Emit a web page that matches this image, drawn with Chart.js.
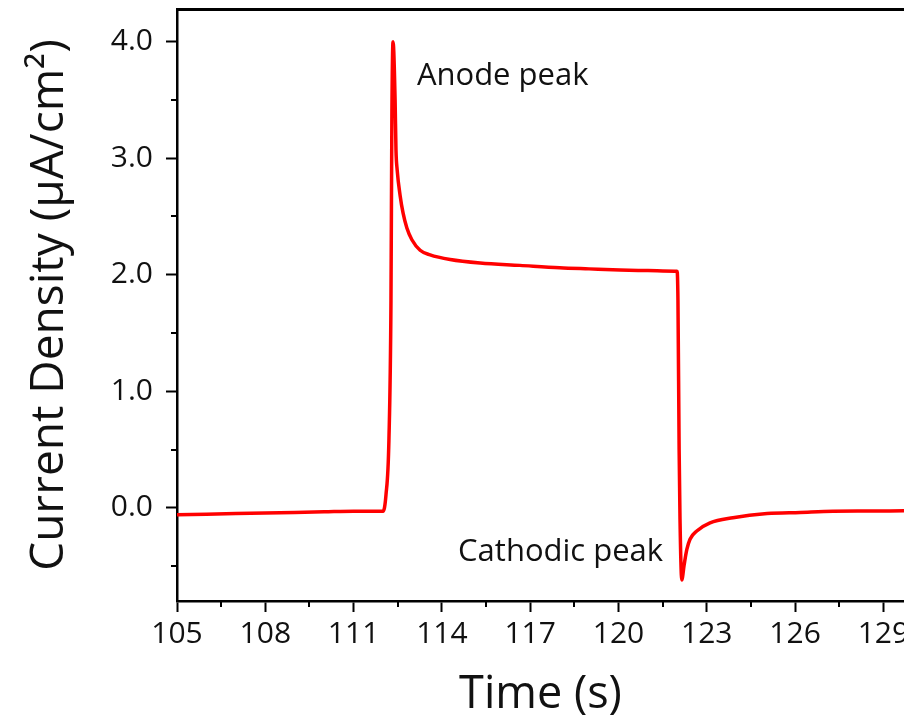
<!DOCTYPE html>
<html>
<head>
<meta charset="utf-8">
<script src="https://cdn.jsdelivr.net/npm/chart.js@4/dist/chart.umd.min.js"></script>
<style>
body { margin: 0; background: #fff; }
canvas { display: block; }
</style>
</head>
<body>
<canvas id="cv" width="904" height="726"></canvas>
<script>
// values
var timeS = [105, 106, 107, 108, 109, 110, 111, 111.5, 112.0, 112.1, 112.2, 112.27, 112.3, 112.34,
	112.41, 112.44, 112.48, 112.58, 112.68, 112.81, 112.98, 113.26, 113.6, 114.28, 115.3, 116.65,
	118.0, 119.0, 120.05, 121.0, 121.92, 121.99, 122.02, 122.06, 122.09, 122.15, 122.23, 122.32,
	122.43, 122.66, 123.11, 123.89, 125.05, 126.17, 127.29, 128.5, 129.7];
var currentDensity = [-0.06, -0.055, -0.05, -0.045, -0.04, -0.035, -0.03, -0.03, -0.03, 0.11, 0.58, 1.78, 3.33, 4.0,
	3.5, 3.07, 2.9, 2.68, 2.53, 2.40, 2.30, 2.21, 2.17, 2.13, 2.10, 2.08,
	2.06, 2.05, 2.04, 2.035, 2.03, 2.03, 1.78, 0.50, -0.10, -0.62, -0.49, -0.36,
	-0.27, -0.20, -0.13, -0.086, -0.05, -0.04, -0.03, -0.028, -0.026];
var xTicks = [105, 108, 111, 114, 117, 120, 123, 126, 129];
var xMinor = [106.5, 109.5, 112.5, 115.5, 118.5, 121.5, 124.5, 127.5];
var yTicks = [0, 1, 2, 3, 4];
var yMinor = [-0.5, 0.5, 1.5, 2.5, 3.5];
var notes = [
	{ text: 'Anode peak', x: 113.15, y: 3.70 },
	{ text: 'Cathodic peak', x: 114.55, y: -0.38 }
];

var FONT = '"Open Sans", Lato, sans-serif';

var points = [];
for (var i = 0; i < timeS.length; i++) {
	points.push({ x: timeS[i], y: currentDensity[i] });
}

// no extra room for the edge labels: the picture is cut at the right
function noPad(s) {
	s.paddingLeft = 0;
	s.paddingRight = 0;
	s.paddingTop = 0;
	s.paddingBottom = 0;
}

var extras = {
	id: 'extras',
	afterDraw: function (chart) {
		var ctx = chart.ctx;
		var xs = chart.scales.x, ys = chart.scales.y;
		var area = chart.chartArea;
		ctx.save();
		ctx.strokeStyle = '#000';
		ctx.lineWidth = 2;
		ctx.beginPath();
		xMinor.forEach(function (v) {
			var px = Math.round(xs.getPixelForValue(v));
			ctx.moveTo(px, area.bottom);
			ctx.lineTo(px, area.bottom + 6);
		});
		yMinor.forEach(function (v) {
			var py = Math.round(ys.getPixelForValue(v));
			ctx.moveTo(area.left, py);
			ctx.lineTo(area.left - 6, py);
		});
		ctx.stroke();
		ctx.fillStyle = '#111';
		ctx.font = '31px ' + FONT;
		ctx.textAlign = 'left';
		ctx.textBaseline = 'middle';
		notes.forEach(function (n) {
			ctx.fillText(n.text, xs.getPixelForValue(n.x), ys.getPixelForValue(n.y));
		});
		ctx.restore();
	}
};

new Chart(document.getElementById('cv'), {
	type: 'line',
	data: {
		datasets: [{
			data: points,
			borderColor: '#ff0000',
			borderWidth: 3.5,
			pointRadius: 0,
			fill: false,
			cubicInterpolationMode: 'monotone'
		}]
	},
	options: {
		responsive: false,
		animation: false,
		layout: { padding: 0 },
		plugins: { legend: { display: false }, tooltip: { enabled: false } },
		scales: {
			x: {
				type: 'linear',
				min: 105,
				max: 129.7,
				afterFit: function (s) { s.height = 125; noPad(s); },
				afterBuildTicks: function (s) { s.ticks = xTicks.map(function (v) { return { value: v }; }); },
				ticks: { color: '#111', font: { family: FONT, size: 30 }, padding: 4, maxRotation: 0, autoSkip: false },
				grid: { drawOnChartArea: false, tickLength: 11, tickWidth: 2, tickColor: '#000' },
				border: { color: '#000', width: 2.5 },
				title: { display: true, text: 'Time (s)', color: '#111', font: { family: FONT, size: 45 }, padding: { top: 0 } }
			},
			x2: {
				type: 'linear',
				position: 'top',
				min: 105,
				max: 129.7,
				afterFit: function (s) { s.height = 9; noPad(s); },
				ticks: { display: false },
				grid: { display: false, drawTicks: false },
				border: { display: true, color: '#000', width: 3 }
			},
			y: {
				min: -0.8,
				max: 4.28,
				afterFit: function (s) { s.width = 177; noPad(s); },
				afterBuildTicks: function (s) { s.ticks = yTicks.map(function (v) { return { value: v }; }); },
				ticks: {
					color: '#111', font: { family: FONT, size: 30 }, padding: 13,
					callback: function (v) { return v.toFixed(1); }
				},
				grid: { drawOnChartArea: false, tickLength: 11, tickWidth: 2, tickColor: '#000' },
				border: { color: '#000', width: 2.5 },
				title: { display: true, text: 'Current Density (μA/cm²)', color: '#111', font: { family: FONT, size: 46 }, padding: { top: 22 } }
			}
		}
	},
	plugins: [extras]
});
</script>
</body>
</html>
